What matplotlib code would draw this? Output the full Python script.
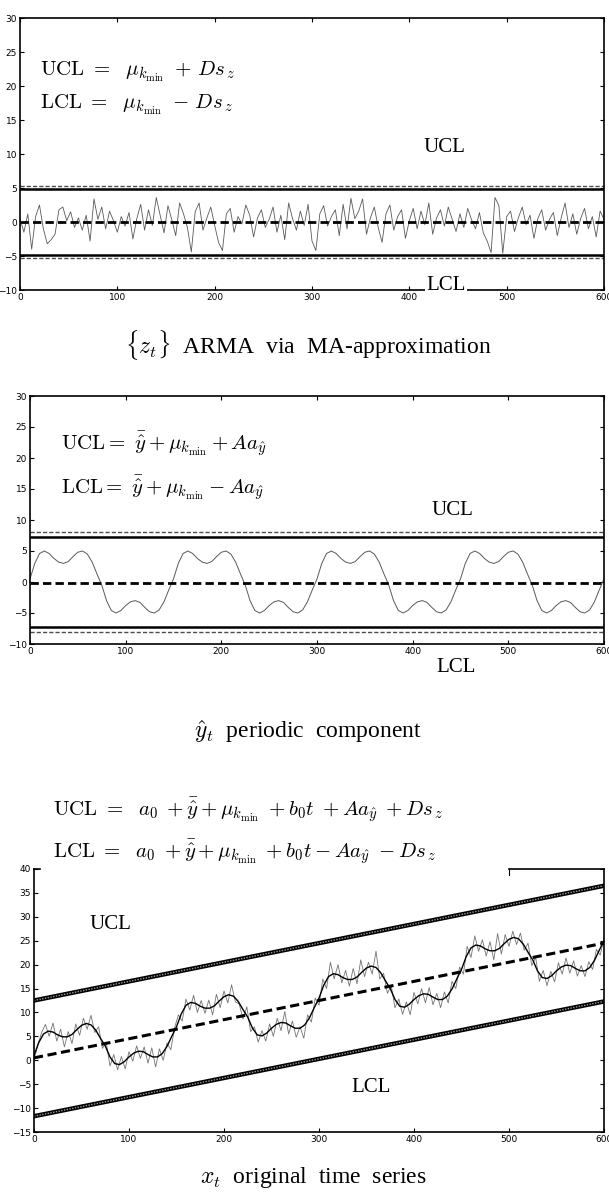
import matplotlib
matplotlib.use('Agg')
import matplotlib.pyplot as plt
import numpy as np

plt.rcParams['mathtext.fontset'] = 'cm'
plt.rcParams['font.family'] = ['Liberation Sans Narrow', 'DejaVu Sans']

# ---- data ----
# z_t : ARMA residual series (every 4th time step)
z_t = [0.5, -1.5, 1.2, -4.0, 0.8, 2.5, -1.0, -3.2, -2.6, -1.8,
       1.8, 2.2, 0.2, 1.5, -0.8, 0.6, -1.2, 1.0, -2.8, 3.4,
       0.4, 2.2, -1.0, 1.6, 0.2, -1.5, 0.8, -0.6, 1.4, -2.5,
       0.5, 2.6, -1.2, 1.8, -0.5, 3.6, 1.0, -1.6, 2.4, 0.3,
       -2.0, 2.8, 1.2, -0.8, -4.4, 1.5, 2.8, -1.2, 0.6, 2.2,
       -0.5, -3.0, -4.2, 1.2, 2.0, -1.5, 0.8, -0.3, 2.5, 1.0,
       -2.2, 0.6, 1.8, -0.8, 0.4, 2.2, -1.5, 1.0, -2.6, 2.8,
       0.5, -1.2, 1.6, -0.5, 2.6, -2.8, -4.2, 1.2, 2.4, -0.6,
       0.8, 1.8, -2.0, 2.6, -1.0, 3.5, 0.5, 1.6, 3.4, -1.8,
       0.6, 2.2, -0.8, -3.0, 1.2, 2.5, -1.2, 0.8, 1.8, -2.4,
       0.2, 2.0, -1.0, 1.6, -0.4, 2.8, -1.8, 0.6, 1.8, -0.6,
       2.2, 0.4, -1.4, 1.2, -0.8, 2.0, 0.3, -1.0, 1.4, -1.6,
       -2.8, -4.5, 3.6, 2.4, -4.6, 0.8, 1.6, -1.4, 0.6, 2.2,
       -0.4, 1.0, -2.4, 0.5, 1.8, -1.2, 0.4, 1.4, -2.0, 0.6,
       2.8, -0.8, 1.2, -1.8, 0.5, 2.0, -1.0, 0.8, -2.2, 1.6,
       0.4]

# y_hat_t : periodic component (every 5th time step)
y_hat_t = [0.5, 3.0, 4.6, 5.0, 4.6, 3.8, 3.2, 3.0, 3.3, 4.1, 4.8, 5.0, 4.5, 3.2, 1.3,
           -0.5, -3.0, -4.6, -5.0, -4.6, -3.8, -3.2, -3.0, -3.3, -4.1, -4.8, -5.0, -4.5, -3.2, -1.3,
           0.5, 3.0, 4.6, 5.0, 4.6, 3.8, 3.2, 3.0, 3.3, 4.1, 4.8, 5.0, 4.5, 3.2, 1.3,
           -0.5, -3.0, -4.6, -5.0, -4.6, -3.8, -3.2, -3.0, -3.3, -4.1, -4.8, -5.0, -4.5, -3.2, -1.3,
           0.5, 3.0, 4.6, 5.0, 4.6, 3.8, 3.2, 3.0, 3.3, 4.1, 4.8, 5.0, 4.5, 3.2, 1.3,
           -0.5, -3.0, -4.6, -5.0, -4.6, -3.8, -3.2, -3.0, -3.3, -4.1, -4.8, -5.0, -4.5, -3.2, -1.3,
           0.5, 3.0, 4.6, 5.0, 4.6, 3.8, 3.2, 3.0, 3.3, 4.1, 4.8, 5.0, 4.5, 3.2, 1.3,
           -0.5, -3.0, -4.6, -5.0, -4.6, -3.8, -3.2, -3.0, -3.3, -4.1, -4.8, -5.0, -4.5, -3.2, -1.3,
           0.5]

# x_t smooth part (trend + periodic), every 5th time step
x_smooth = [1.0, 3.7, 5.5, 6.1, 5.9, 5.3, 4.9, 4.9, 5.4, 6.4, 7.3, 7.7, 7.4, 6.3, 4.6,
            3.0, 0.7, -0.7, -0.9, -0.3, 0.7, 1.5, 1.9, 1.8, 1.2, 0.7, 0.7, 1.4, 2.9, 5.0,
            7.0, 9.7, 11.5, 12.1, 11.9, 11.3, 10.9, 10.9, 11.4, 12.4, 13.3, 13.7, 13.4, 12.3, 10.6,
            9.0, 6.7, 5.3, 5.1, 5.7, 6.7, 7.5, 7.9, 7.8, 7.2, 6.7, 6.7, 7.4, 8.9, 11.0,
            13.0, 15.7, 17.5, 18.1, 17.9, 17.3, 16.9, 16.9, 17.4, 18.4, 19.3, 19.7, 19.4, 18.3, 16.6,
            15.0, 12.7, 11.3, 11.1, 11.7, 12.7, 13.5, 13.9, 13.8, 13.2, 12.7, 12.7, 13.4, 14.9, 17.0,
            19.0, 21.7, 23.5, 24.1, 23.9, 23.3, 22.9, 22.9, 23.4, 24.4, 25.3, 25.7, 25.4, 24.3, 22.6,
            21.0, 18.7, 17.3, 17.1, 17.7, 18.7, 19.5, 19.9, 19.8, 19.2, 18.7, 18.7, 19.4, 20.9, 23.0,
            25.0]

# x_t observed series, every 4th time step
x_obs = [0.0, 3.2, 5.8, 7.5, 5.0, 7.8, 4.0, 6.5, 2.8, 6.0,
         3.5, 7.6, 5.2, 8.8, 6.5, 9.4, 5.8, 7.0, 2.5, 3.8,
         -1.2, 1.2, -2.0, 0.8, -1.8, 1.8, -0.2, 3.0, 0.4, 2.8,
         -0.6, 2.6, -1.4, 2.4, 0.0, 3.6, 2.2, 6.8, 9.5, 8.2,
         12.8, 10.5, 13.6, 10.0, 12.5, 9.8, 12.6, 9.5, 13.8, 11.0,
         14.5, 12.0, 15.8, 12.2, 11.8, 8.6, 11.2, 6.0, 7.0, 3.8,
         6.2, 4.0, 7.6, 5.0, 8.8, 6.2, 10.2, 5.5, 8.2, 4.8,
         7.0, 4.6, 9.5, 8.0, 13.0, 11.5, 17.0, 15.0, 20.5, 17.0,
         20.0, 16.2, 18.8, 15.5, 19.2, 16.0, 21.0, 17.5, 20.5, 18.0,
         22.8, 17.0, 18.2, 14.0, 15.6, 11.0, 12.8, 9.6, 12.2, 9.5,
         14.2, 11.8, 15.0, 12.0, 15.2, 11.6, 14.0, 11.0, 14.3, 12.0,
         16.5, 15.0, 19.5, 18.0, 23.8, 21.5, 26.0, 22.8, 25.2, 21.8,
         24.8, 21.0, 26.5, 22.2, 26.3, 23.8, 27.0, 24.2, 26.6, 23.0,
         24.5, 19.8, 21.5, 16.5, 18.8, 15.6, 18.6, 16.4, 20.4, 18.0,
         21.4, 18.2, 20.8, 17.6, 19.8, 17.5, 20.6, 19.0, 23.2, 22.0,
         25.5]

# control limits
t_ends = [0, 600]
z_ucl, z_ucl_dash, z_lcl, z_lcl_dash, z_center = 4.8, 5.3, -4.8, -5.3, 0.0
y_ucl, y_ucl_dash, y_lcl, y_lcl_dash, y_center = 7.3, 8.0, -7.3, -8.0, -0.1
x_ucl = [12.5, 36.5]
x_lcl = [-11.7, 12.3]
x_trend = [0.5, 24.5]

t_z = np.linspace(0, 600, len(z_t))
t_y = np.linspace(0, 600, len(y_hat_t))
t_s = np.linspace(0, 600, len(x_smooth))
t_o = np.linspace(0, 600, len(x_obs))

W, H = 609, 1194
fig = plt.figure(figsize=(W / 100, H / 100), dpi=100)


def box(l, t, r, b):
    return [l / W, 1 - b / H, (r - l) / W, (b - t) / H]


def style(ax, ylo, yhi):
    ax.set_xlim(0, 600)
    ax.set_ylim(ylo, yhi)
    ax.set_xticks(range(0, 601, 100))
    ax.set_yticks(range(ylo, yhi + 1, 5))
    ax.tick_params(direction='in', length=3, width=0.8, labelsize=6.5, pad=2,
                   top=True, right=True)
    for s in ax.spines.values():
        s.set_linewidth(1.2)


serif = ['Liberation Serif', 'DejaVu Serif']
fs_eq = 15
fs_lab = 15
fs_cap = 17

# ---- panel 1 : z_t ----
ax1 = fig.add_axes(box(20, 18, 604, 290))
style(ax1, -10, 30)
ax1.plot(t_z, z_t, color='0.35', lw=0.6)
ax1.plot(t_ends, [z_ucl_dash] * 2, color='0.3', lw=1.0, ls=(0, (3, 1.5)))
ax1.plot(t_ends, [z_ucl] * 2, color='k', lw=1.8)
ax1.plot(t_ends, [z_lcl] * 2, color='k', lw=1.8)
ax1.plot(t_ends, [z_lcl_dash] * 2, color='0.3', lw=1.0, ls=(0, (3, 1.5)))
ax1.plot(t_ends, [z_center] * 2, color='k', lw=2.0, ls=(0, (3, 1.5)))
ax1.text(21, 22, r'$\mathrm{UCL}\ =\ \ \mu_{k_{\min}}\ +\,Ds_{\,z}$', fontsize=fs_eq, va='center')
ax1.text(21, 17.2, r'$\mathrm{LCL}\ =\ \ \mu_{k_{\min}}\ -\,Ds_{\,z}$', fontsize=fs_eq, va='center')
ax1.text(436, 11, 'UCL', family=serif, fontsize=fs_lab, ha='center', va='center')
ax1.text(438, -9.4, 'LCL', family=serif, fontsize=fs_lab, ha='center', va='center',
         bbox=dict(facecolor='white', edgecolor='none', pad=1), clip_on=False, zorder=5)
fig.text(308 / W, 1 - 345 / H, r'$\{z_t\}$  ARMA  via  MA-approximation', family=serif,
         fontsize=fs_cap, ha='center', va='center')

# ---- panel 2 : periodic component ----
ax2 = fig.add_axes(box(30, 396, 604, 644))
style(ax2, -10, 30)
ax2.plot(t_y, y_hat_t, color='0.35', lw=0.7)
ax2.plot(t_ends, [y_ucl_dash] * 2, color='0.3', lw=1.0, ls=(0, (3, 1.5)))
ax2.plot(t_ends, [y_ucl] * 2, color='k', lw=1.8)
ax2.plot(t_ends, [y_lcl] * 2, color='k', lw=1.8)
ax2.plot(t_ends, [y_lcl_dash] * 2, color='0.3', lw=1.0, ls=(0, (3, 1.5)))
ax2.plot(t_ends, [y_center] * 2, color='k', lw=2.0, ls=(0, (3, 1.5)))
ax2.text(32, 22.4, r'$\mathrm{UCL}=\ \bar{\hat{y}}+\mu_{k_{\min}}+Aa_{\hat{y}}$', fontsize=fs_eq, va='center')
ax2.text(32, 15.3, r'$\mathrm{LCL}=\ \bar{\hat{y}}+\mu_{k_{\min}}-Aa_{\hat{y}}$', fontsize=fs_eq, va='center')
ax2.text(442, 11.6, 'UCL', family=serif, fontsize=fs_lab, ha='center', va='center')
ax2.text(445, -13.8, 'LCL', family=serif, fontsize=fs_lab, ha='center', va='center', clip_on=False)
fig.text(308 / W, 1 - 732 / H, r'$\hat{y}_t$  periodic  component', family=serif,
         fontsize=fs_cap, ha='center', va='center')

# ---- panel 3 : original series ----
ax3 = fig.add_axes(box(34, 869, 604, 1132))
style(ax3, -15, 40)
ax3.tick_params(top=False)
ax3.spines['top'].set_visible(False)
ax3.plot([0, 6], [40, 40], color='k', lw=1.2, clip_on=False)
ax3.plot([500, 600], [40, 40], color='k', lw=1.2, clip_on=False)
ax3.plot([500, 500], [40, 38.8], color='k', lw=0.8)
ax3.plot(t_ends, x_ucl, color='k', lw=3.2)
ax3.plot(t_ends, x_ucl, color='0.6', lw=1.0, ls=(0, (1, 1)))
ax3.plot(t_ends, x_lcl, color='k', lw=3.2)
ax3.plot(t_ends, x_lcl, color='0.6', lw=1.0, ls=(0, (1, 1)))
ax3.plot(t_o, x_obs, color='0.45', lw=0.6)
ax3.plot(t_s, x_smooth, color='k', lw=1.0)
ax3.plot(t_ends, x_trend, color='k', lw=2.2, ls=(0, (3, 1.5)))
ax3.text(80, 28.3, 'UCL', family=serif, fontsize=fs_lab, ha='center', va='center')
ax3.text(355, -5.6, 'LCL', family=serif, fontsize=fs_lab, ha='center', va='center')
fig.text(53 / W, 1 - 810 / H,
         r'$\mathrm{UCL}\ =\ \ a_0\;+\bar{\hat{y}}+\mu_{k_{\min}}\;+b_0t\;+Aa_{\hat{y}}\;+Ds_{\,z}$',
         fontsize=fs_eq, va='center')
fig.text(53 / W, 1 - 852 / H,
         r'$\mathrm{LCL}\ =\ \ a_0\;+\bar{\hat{y}}+\mu_{k_{\min}}\;+b_0t-Aa_{\hat{y}}\;-Ds_{\,z}$',
         fontsize=fs_eq, va='center')
fig.text(313 / W, 1 - 1178 / H, r'$x_t$  original  time  series', family=serif,
         fontsize=fs_cap, ha='center', va='center')

fig.savefig('out.png', dpi=100)
